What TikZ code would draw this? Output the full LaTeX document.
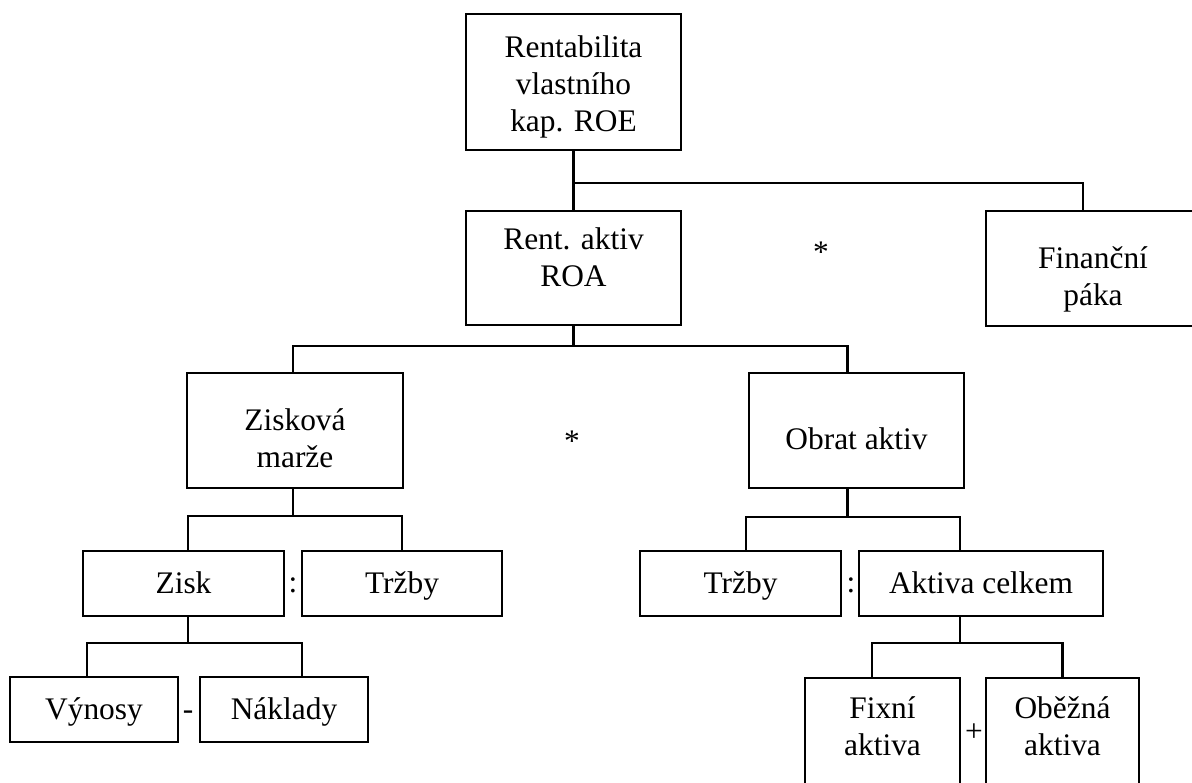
\documentclass[tikz,border=0pt]{standalone}
\usepackage{fontspec}
\setmainfont{Liberation Serif}
\usepackage{tikz}
\usetikzlibrary{positioning}
% text of a box, centred; the optional argument moves it up or down inside the box
\newcommand{\boxtext}[2][-1.5pt]{\raisebox{#1}[\height][\depth]{\begin{tabular}{@{}c@{}}#2\end{tabular}}}
\tikzset{
x=0.5pt, y=-0.5pt, % one unit is one pixel, y runs downwards
boxsize/.style 2 args={minimum width=#1*0.5pt, minimum height=#2*0.5pt}, % box size in pixels
box/.style={draw, line width=1.4pt, inner sep=0pt, font=\fontsize{15.7}{18.5}\selectfont}, % the framed boxes
link/.style={line width=1.15pt}, % the connecting lines
op/.style={inner sep=0pt, font=\fontsize{15.7}{18.5}\selectfont}, % the signs between boxes
}
\begin{document}
\begin{tikzpicture}
\useasboundingbox (0,0) rectangle (1192,782);
\clip (0,0) rectangle (1192,782);

\node[box, boxsize={215}{136}] (roe) at (573.5,82) {\boxtext[-2.5pt]{Rentabilita\\vlastního\\kap. ROE}};
\node[box, boxsize={215}{114}] (roa) at (573.5,268) {\boxtext[3.5pt]{Rent. aktiv\\ROA}};
\node[box, boxsize={214}{115}] (fin) at (1093,268.5) {\boxtext[-5.5pt]{Finanční\\páka}};
\node[box, boxsize={216}{115}] (marze) at (295,430.5) {\boxtext[-5.5pt]{Zisková\\marže}};
\node[box, boxsize={215}{115}] (obrat) at (856.5,430.5) {\boxtext[-6pt]{Obrat aktiv}};
\node[box, boxsize={201}{65}] (zisk) at (183.5,583.5) {\boxtext{Zisk}};
\node[box, boxsize={200}{65}] (trzbyA) at (402,583.5) {\boxtext{Tržby}};
\node[box, boxsize={201}{65}] (trzbyB) at (740.5,583.5) {\boxtext{Tržby}};
\node[box, boxsize={244}{65}] (aktiva) at (981,583.5) {\boxtext{Aktiva celkem}};
\node[box, boxsize={168}{65}] (vynosy) at (94,709.5) {\boxtext{Výnosy}};
\node[box, boxsize={168}{65}] (naklady) at (284,709.5) {\boxtext{Náklady}};
\node[box, boxsize={155}{108}] (fixni) at (882.5,732) {\boxtext[1pt]{Fixní\\aktiva}};
\node[box, boxsize={153}{108}] (obezna) at (1062.5,732) {\boxtext[1pt]{Oběžná\\aktiva}};

% signs
\node[op] (times1) at (821,252) {*};
\node[op] (times2) at (572,441) {*};
\node[op] (div1) at (293,585) {:};
\node[op] (div2) at (851,585) {:};
\node[op] (minus) at (188,715) {-};
\node[op] (plus) at (974,733) {+};

% junctions
\coordinate (j0) at (573.5,183);
\coordinate (j1) at (573.5,346);
\coordinate (j2) at (293,516);
\coordinate (j3) at (847.5,517);
\coordinate (j4) at (188,643);
\coordinate (j5) at (960,643);

\draw[link] (roe) -- (roa);
\draw[link] (j0) -| ([xshift=-5pt]fin.north);
\draw[link] (roa) -- (j1);
\draw[link] ([xshift=-1pt]marze.north) |- (j1) -| ([xshift=-4.5pt]obrat.north);
\draw[link] ([xshift=-1pt]marze.south) -- (j2);
\draw[link] ([xshift=2.25pt]zisk.north) |- (j2) -| (trzbyA.north);
\draw[link] ([xshift=-4.5pt]obrat.south) -- (j3);
\draw[link] ([xshift=2.75pt]trzbyB.north) |- (j3) -| ([xshift=-10.5pt]aktiva.north);
\draw[link] ([xshift=2.25pt]zisk.south) -- (j4);
\draw[link] ([xshift=-3.5pt]vynosy.north) |- (j4) -| ([xshift=9pt]naklady.north);
\draw[link] ([xshift=-10.5pt]aktiva.south) -- (j5);
\draw[link] ([xshift=-5.25pt]fixni.north) |- (j5) -| (obezna.north);

\end{tikzpicture}
\end{document}
